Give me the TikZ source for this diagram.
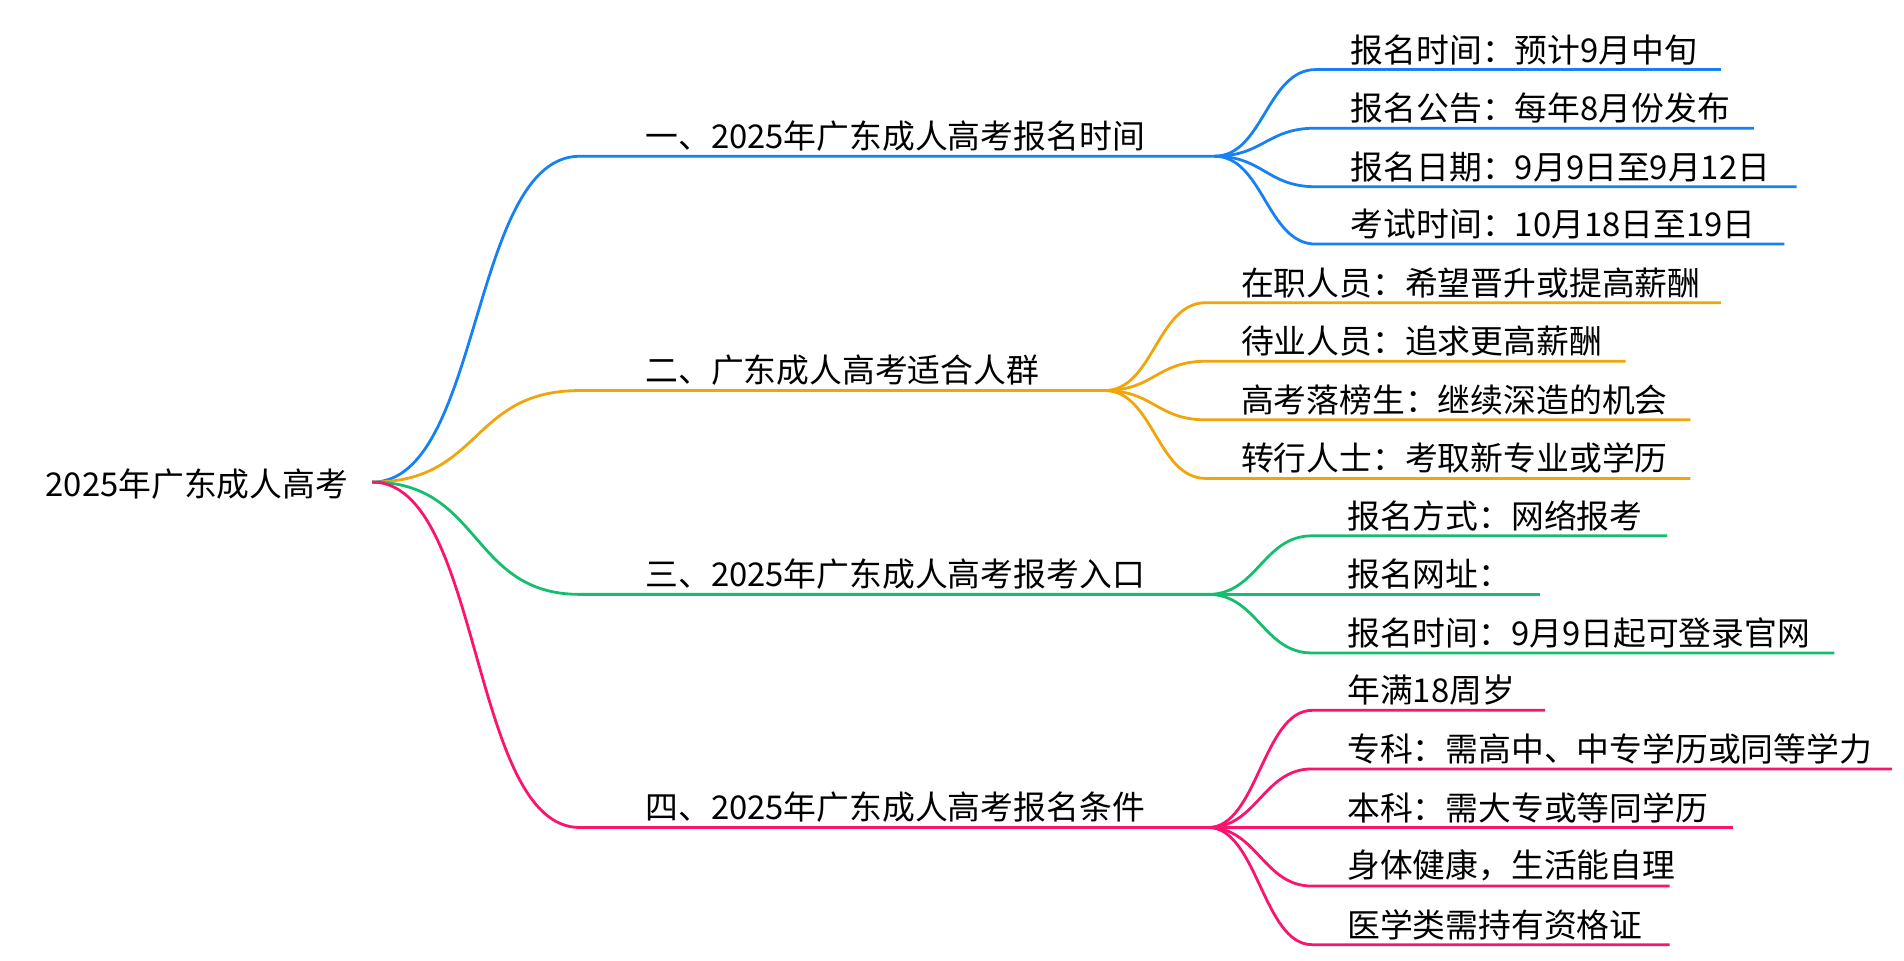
\documentclass[tikz,border=0pt]{standalone}
\usepackage{fontspec}
\setmainfont{Noto Sans CJK SC}
\definecolor{cblue}{RGB}{22,128,245}
\definecolor{corange}{RGB}{240,165,10}
\definecolor{cgreen}{RGB}{20,190,110}
\definecolor{cpink}{RGB}{250,20,110}
\tikzset{
	lbl/.style={anchor=south west, inner sep=2pt, font=\fontsize{15.3}{18}\selectfont},
	wire/.style={line width=1.3pt},
}
\begin{document}
\begin{tikzpicture}[x=0.02cm, y=-0.02cm]
	\useasboundingbox (0,0) rectangle (1560,787);
	% root
	\node[anchor=west, inner sep=0pt, font=\fontsize{15.3}{18}\selectfont] (root) at (37,397) {2025年广东成人高考};
	\coordinate (r) at (305,395);

	% branches: name/y/end/colour/text
	\foreach \n/\y/\e/\c/\t in {
		b1/128/995/cblue/{一、2025年广东成人高考报名时间},
		b2/320/905/corange/{二、广东成人高考适合人群},
		b3/487/990/cgreen/{三、2025年广东成人高考报考入口},
		b4/678/990/cpink/{四、2025年广东成人高考报名条件}}{
		\coordinate (\n s) at (475,\y);
		\coordinate (\n) at (\e,\y);
		\draw[wire, \c] (r) .. controls +(90,0) and +(-90,0) .. (\n s) -- (\n);
		\node[lbl] (\n t) at (525,\y) {\t};
	}

	% leaves: parent/x of text/y/end/colour/text
	\foreach \p/\x/\y/\e/\c/\t in {
		b1/1103/57/1410/cblue/{报名时间：预计9月中旬},
		b1/1103/105/1437/cblue/{报名公告：每年8月份发布},
		b1/1103/153/1472/cblue/{报名日期：9月9日至9月12日},
		b1/1103/200/1462/cblue/{考试时间：10月18日至19日},
		b2/1013/248/1410/corange/{在职人员：希望晋升或提高薪酬},
		b2/1013/296/1332/corange/{待业人员：追求更高薪酬},
		b2/1013/344/1385/corange/{高考落榜生：继续深造的机会},
		b2/1013/392/1385/corange/{转行人士：考取新专业或学历},
		b3/1100/439/1366/cgreen/{报名方式：网络报考},
		b3/1100/487/1262/cgreen/{报名网址：},
		b3/1100/535/1503/cgreen/{报名时间：9月9日起可登录官网},
		b4/1100/582/1266/cpink/{年满18周岁},
		b4/1100/630/1550/cpink/{专科：需高中、中专学历或同等学力},
		b4/1100/678/1420/cpink/{本科：需大专或等同学历},
		b4/1100/726/1368/cpink/{身体健康，生活能自理},
		b4/1100/774/1368/cpink/{医学类需持有资格证}}{
		\coordinate (ls) at (\x-25,\y);
		\coordinate (le) at (\e,\y);
		\draw[wire, \c] (\p) .. controls +(40,0) and +(-40,0) .. (ls) -- (le);
		\node[lbl] at (\x,\y) {\t};
	}
\end{tikzpicture}
\end{document}
